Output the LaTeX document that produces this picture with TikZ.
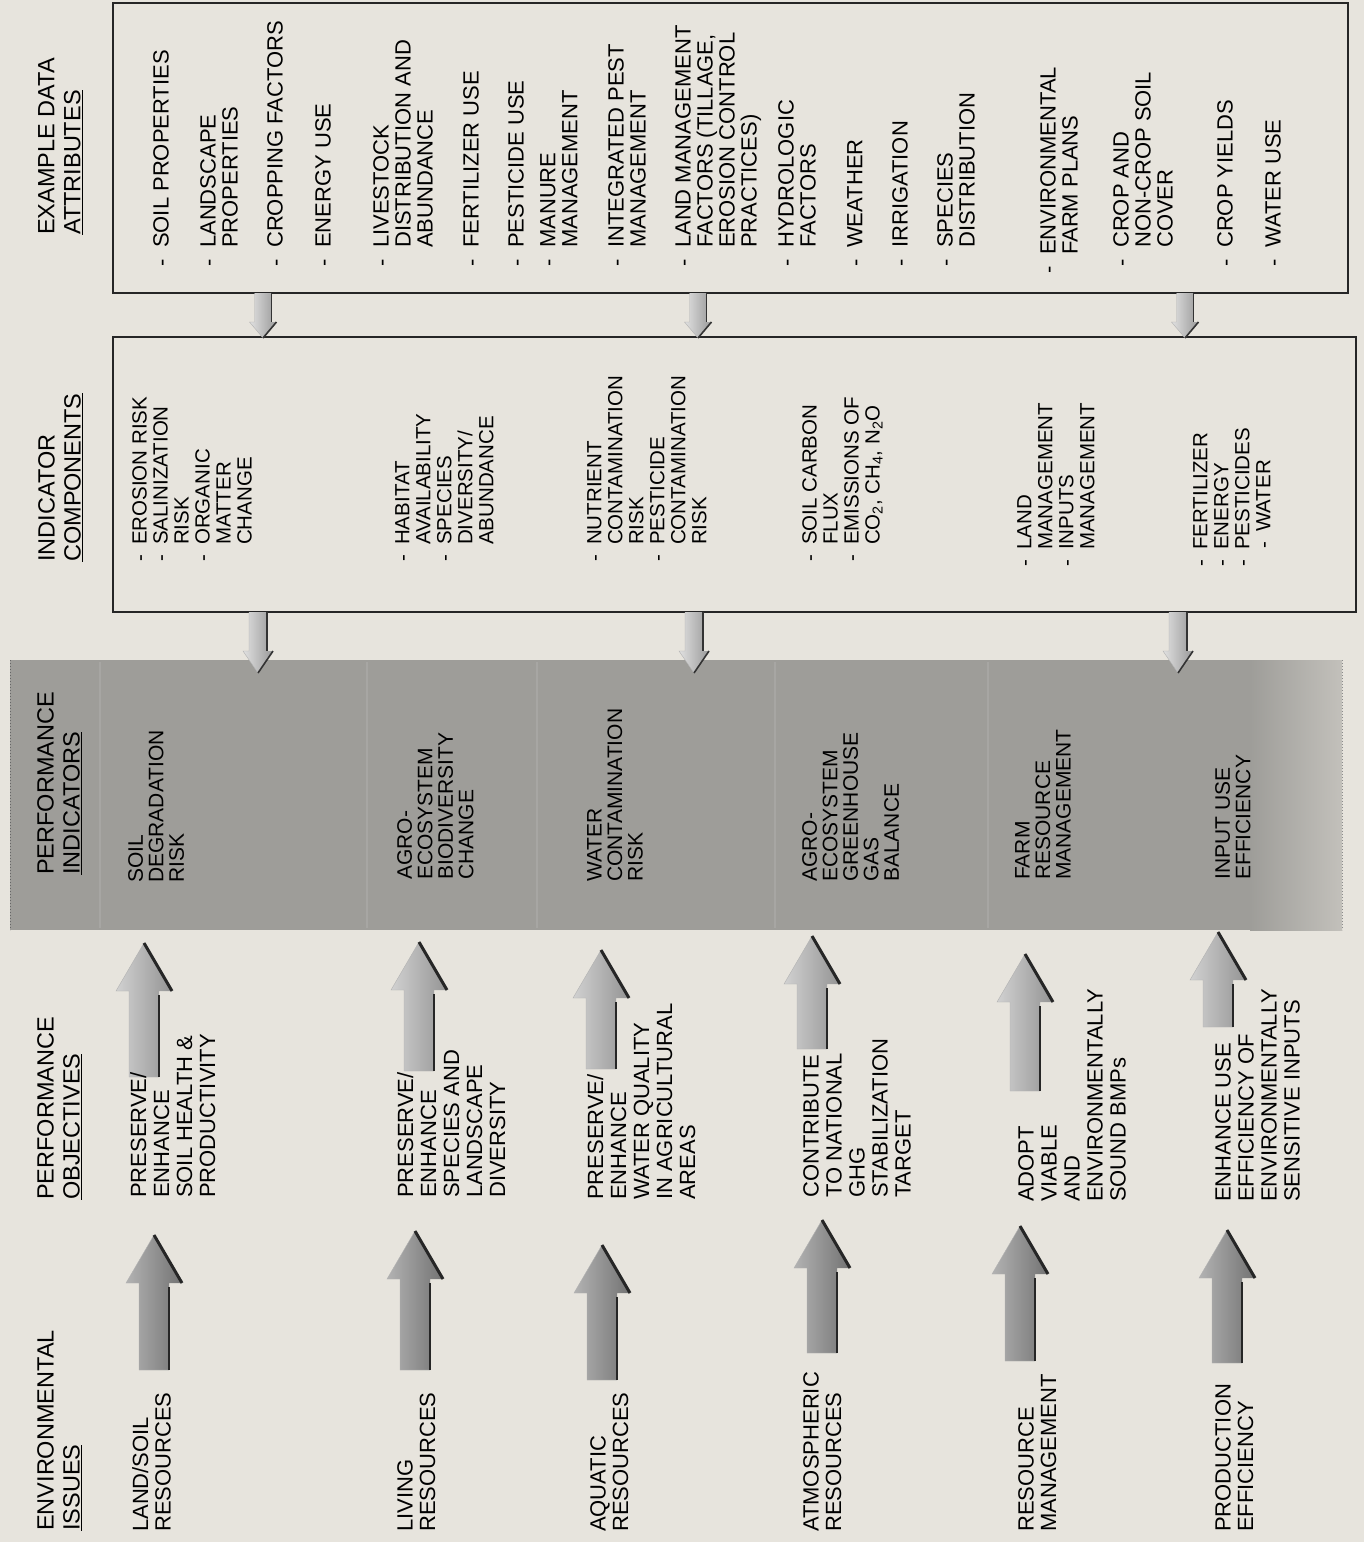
\documentclass[tikz,border=0pt]{standalone}
\usepackage{fontspec}
\setmainfont{Liberation Sans}

\definecolor{paper}{RGB}{231,228,221}
\definecolor{band}{RGB}{158,157,153}

% dash hung in front of a list line
\newcommand\itemdash{\llap{-\hspace{0.5em}}}
% upward block arrow: x, tip, tail, style
\newcommand\upblock[4]{%
  \shade[#4] (#1-15,#3) -- (#1-15,#2+48) -- (#1-28,#2+48) -- (#1,#2) -- (#1+28,#2+48) -- (#1+15,#2+48) -- (#1+15,#3) -- cycle;
  \draw[black!30,thin] (#1+15,#3) -- (#1-15,#3) -- (#1-15,#2+48) -- (#1-28,#2+48) -- (#1,#2);
  \draw[black!85,line width=3pt] (#1,#2) -- (#1+28,#2+48);
  \draw[black!85,line width=2.5pt] (#1+15,#2+52) -- (#1+15,#3);
}
% downward block arrow: x, tail, tip, shaft half width, head half width, head length
\newcommand\downblock[6]{%
  \shade[left color=black!12,right color=black!40] (#1-#4,#2) -- (#1-#4,#3-#6) -- (#1-#5,#3-#6) -- (#1,#3) -- (#1+#5,#3-#6) -- (#1+#4,#3-#6) -- (#1+#4,#2) -- cycle;
  \draw[black!30,thin] (#1-#4,#2) -- (#1-#4,#3-#6) -- (#1-#5,#3-#6) -- (#1,#3);
  \draw[black!80,line width=1.6pt] (#1+#4,#2) -- (#1+#4,#3-#6);
  \draw[black!80,line width=1.6pt] (#1+#5,#3-#6) -- (#1,#3);
}

\begin{document}
\begin{tikzpicture}[x=1pt,y=-1pt,
  every node/.style={rotate=90,anchor=north west,inner sep=0pt,align=left},
  head/.style={font=\fontsize{23.5}{26}\selectfont},
  issue/.style={font=\fontsize{22}{22.5}\selectfont},
  objective/.style={font=\fontsize{22}{23}\selectfont},
  indicator/.style={font=\fontsize{21}{20.5}\selectfont},
  component/.style={font=\fontsize{20.5}{21}\selectfont},
  attribute/.style={font=\fontsize{22}{22}\selectfont},
  frame/.style={draw=black!85,line width=1.8pt,fill=paper},
  issuearrow/.style={left color=black!30,right color=black!55},
  objarrow/.style={left color=black!18,right color=black!42}]

  \fill[paper] (0,0) rectangle (1364,1542);
  \useasboundingbox (0,0) rectangle (1364,1542);

  % boxes and band
  \draw[frame] (113,3) rectangle (1348,293);
  \draw[frame] (113,337) rectangle (1356,612);
  \fill[band] (10,660) rectangle (1342,930);
  \shade[left color=band,right color=band!50!paper] (1250,660) rectangle (1342,930);
  \foreach \x in {100,367,537,775,988}
    \draw[white,opacity=.1,line width=1.5pt] (\x,662) -- (\x,928);
  \draw[black!60,dotted,line width=1pt] (10,660) -- (10,930);
  \draw[black!45,dotted,line width=1pt] (1342,660) -- (1342,930);

  % arrows between the boxes
  \foreach \x in {263,698,1185}
    {\downblock{\x}{293}{338}{8.5}{13.5}{16}}
  \foreach \x in {258,694,1178}
    {\downblock{\x}{612}{673}{9}{15}{22}}

  % arrows up to the objectives and indicators
  \foreach \x/\t/\b in {154/1235/1370,415/1231/1370,602/1245/1380,822/1220/1353,1020/1226/1361,1227/1230/1363}
    {\upblock{\x}{\t}{\b}{issuearrow}}
  \foreach \x/\t/\b in {144/943/1077,419/942/1071,601/950/1069,812/936/1049,1025/954/1091,1218/932/1027}
    {\upblock{\x}{\t}{\b}{objarrow}}

  % headings
  \node[head] (hIssue) at (37,1531) {ENVIRONMENTAL\\\underline{ISSUES}};
  \node[head] (hObj) at (37,1200) {PERFORMANCE\\\underline{OBJECTIVES}};
  \node[head] (hInd) at (37,875) {PERFORMANCE\\\underline{INDICATORS}};
  \node[head] (hComp) at (38,562) {INDICATOR\\\underline{COMPONENTS}};
  \node[head] (hAttr) at (38,235) {EXAMPLE DATA\\\underline{ATTRIBUTES}};

  % environmental issues
  \node[issue] (iss1) at (132,1532) {LAND/SOIL\\RESOURCES};
  \node[issue] (iss2) at (397,1532) {LIVING\\RESOURCES};
  \node[issue] (iss3) at (590,1532) {AQUATIC\\RESOURCES};
  \node[issue] (iss4) at (803,1532) {ATMOSPHERIC\\RESOURCES};
  \node[issue] (iss5) at (1018,1532) {RESOURCE\\MANAGEMENT};
  \node[issue] (iss6) at (1215,1532) {PRODUCTION\\EFFICIENCY};

  % performance objectives
  \node[objective] (obj1) at (130,1198) {PRESERVE/\\ENHANCE\\SOIL HEALTH \&\\PRODUCTIVITY};
  \node[objective] (obj2) at (397,1198) {PRESERVE/\\ENHANCE\\SPECIES AND\\LANDSCAPE\\DIVERSITY};
  \node[objective] (obj3) at (587,1200) {PRESERVE/\\ENHANCE\\WATER QUALITY\\IN AGRICULTURAL\\AREAS};
  \node[objective] (obj4) at (803,1198) {CONTRIBUTE\\TO NATIONAL\\GHG\\STABILIZATION\\TARGET};
  \node[objective] (obj5) at (1018,1202) {ADOPT\\VIABLE\\AND\\ENVIRONMENTALLY\\SOUND BMPs};
  \node[objective] (obj6) at (1215,1202) {ENHANCE USE\\EFFICIENCY OF\\ENVIRONMENTALLY\\SENSITIVE INPUTS};

  % performance indicators
  \node[indicator] (ind1) at (128,883) {SOIL\\DEGRADATION\\RISK};
  \node[indicator] (ind2) at (397,880) {AGRO-\\ECOSYSTEM\\BIODIVERSITY\\CHANGE};
  \node[indicator] (ind3) at (587,882) {WATER\\CONTAMINATION\\RISK};
  \node[indicator] (ind4) at (802,882) {AGRO-\\ECOSYSTEM\\GREENHOUSE\\GAS\\BALANCE};
  \node[indicator] (ind5) at (1015,880) {FARM\\RESOURCE\\MANAGEMENT};
  \node[indicator] (ind6) at (1215,880) {INPUT USE\\EFFICIENCY};

  % indicator components
  \node[component] (cmp1) at (132,545) {\itemdash EROSION RISK\\\itemdash SALINIZATION\\RISK\\\itemdash ORGANIC\\MATTER\\CHANGE};
  \node[component] (cmp2) at (395,545) {\itemdash HABITAT\\AVAILABILITY\\\itemdash SPECIES\\DIVERSITY/\\ABUNDANCE};
  \node[component] (cmp3) at (587,545) {\itemdash NUTRIENT\\CONTAMINATION\\RISK\\\itemdash PESTICIDE\\CONTAMINATION\\RISK};
  \node[component] (cmp4) at (802,545) {\itemdash SOIL CARBON\\FLUX\\\itemdash EMISSIONS OF\\CO\textsubscript{2}, CH\textsubscript{4}, N\textsubscript{2}O};
  \node[component] (cmp5) at (1017,550) {\itemdash LAND\\MANAGEMENT\\\itemdash INPUTS\\MANAGEMENT};
  \node[component] (cmp6) at (1193,550) {\itemdash FERTILIZER\\\itemdash ENERGY\\\itemdash PESTICIDES\\\hspace*{18pt}\itemdash WATER};

  % example data attributes
  \node[attribute] (att1) at (153,248) {\itemdash SOIL PROPERTIES};
  \node[attribute] (att2) at (200,248) {\itemdash LANDSCAPE\\PROPERTIES};
  \node[attribute] (att3) at (267,248) {\itemdash CROPPING FACTORS};
  \node[attribute] (att4) at (315,248) {\itemdash ENERGY USE};
  \node[attribute] (att5) at (373,248) {\itemdash LIVESTOCK\\DISTRIBUTION AND\\ABUNDANCE};
  \node[attribute] (att6) at (463,248) {\itemdash FERTILIZER USE};
  \node[attribute] (att7) at (508,248) {\itemdash PESTICIDE USE};
  \node[attribute] (att8) at (540,248) {\itemdash MANURE\\MANAGEMENT};
  \node[attribute] (att9) at (608,248) {\itemdash INTEGRATED PEST\\MANAGEMENT};
  \node[attribute] (att10) at (675,248) {\itemdash LAND MANAGEMENT\\FACTORS (TILLAGE,\\EROSION CONTROL\\PRACTICES)};
  \node[attribute] (att11) at (778,248) {\itemdash HYDROLOGIC\\FACTORS};
  \node[attribute] (att12) at (847,248) {\itemdash WEATHER};
  \node[attribute] (att13) at (892,248) {\itemdash IRRIGATION};
  \node[attribute] (att14) at (937,248) {\itemdash SPECIES\\DISTRIBUTION};
  \node[attribute] (att15) at (1040,255) {\itemdash ENVIRONMENTAL\\FARM PLANS};
  \node[attribute] (att16) at (1113,248) {\itemdash CROP AND\\NON-CROP SOIL\\COVER};
  \node[attribute] (att17) at (1217,248) {\itemdash CROP YIELDS};
  \node[attribute] (att18) at (1265,248) {\itemdash WATER USE};
\end{tikzpicture}
\end{document}
